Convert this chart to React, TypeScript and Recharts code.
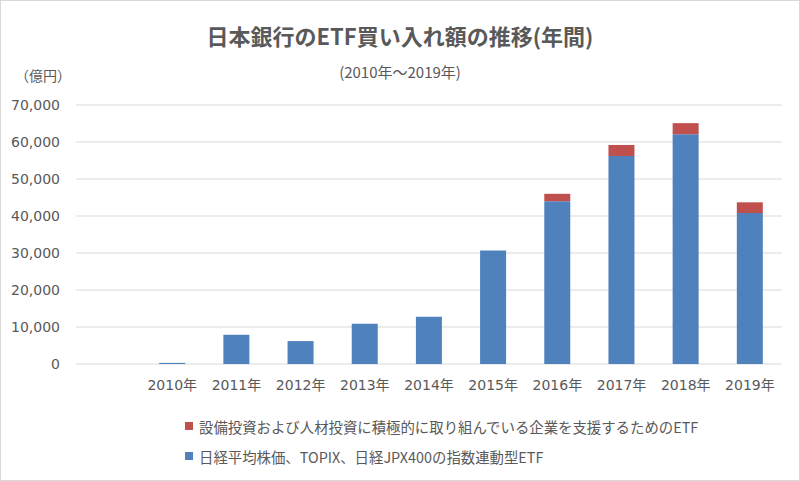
import React from 'react';
import { BarChart, Bar, XAxis, YAxis, CartesianGrid, Legend } from 'recharts';

// 億円, annual purchases. leading '' is the empty slot Excel left at the start
const years = ['', '2010年', '2011年', '2012年', '2013年', '2014年', '2015年', '2016年', '2017年', '2018年', '2019年'];
const indexEtf = [0, 300, 7900, 6200, 10900, 12800, 30700, 44000, 56200, 62100, 40800];
const capexEtf = [0, 0, 0, 0, 0, 0, 0, 2000, 3000, 3000, 2900];
const yTicks = [0, 10000, 20000, 30000, 40000, 50000, 60000, 70000];

const seriesNames = {
  capex: '設備投資および人材投資に積極的に取り組んでいる企業を支援するためのETF',
  index: '日経平均株価、TOPIX、日経JPX400の指数連動型ETF',
};

const BLUE = '#4f81bd';
const RED = '#c0504d';
const TEXT = '#595959';
const JP = '"Noto Sans CJK JP", "Noto Sans", sans-serif';
const NUM = '"DejaVu Sans", "Noto Sans CJK JP", sans-serif';

const data = years.map((y, i) => ({ year: y, index: indexEtf[i], capex: capexEtf[i] }));

const legendItems = [
  { name: seriesNames.capex, color: RED },
  { name: seriesNames.index, color: BLUE },
];

function LegendBox() {
  return (
    <div style={{ fontFamily: JP, fontSize: 14.4, color: TEXT }}>
      {legendItems.map((it) => (
        <div key={it.name} style={{ display: 'flex', alignItems: 'center', height: 30 }}>
          <span style={{ width: 8, height: 8, background: it.color, marginRight: 6, display: 'inline-block' }} />
          <span>{it.name}</span>
        </div>
      ))}
    </div>
  );
}

export default function App() {
  return (
    <div style={{
      position: 'absolute', left: 0, top: 0, width: 800, height: 481,
      boxSizing: 'border-box', border: '1px solid #d9d9d9', background: '#fff',
    }}>
      <div style={{
        position: 'absolute', left: 0, right: 0, top: 18, textAlign: 'center',
        fontFamily: JP, fontWeight: 'bold', fontSize: 22, color: TEXT,
      }}>
        日本銀行のETF買い入れ額の推移(年間)
      </div>
      <div style={{
        position: 'absolute', left: 0, right: 0, top: 60, textAlign: 'center',
        fontFamily: JP, fontSize: 15, color: TEXT,
      }}>
        (2010年～2019年)
      </div>
      <div style={{ position: 'absolute', left: 14, top: 64, fontFamily: JP, fontSize: 14, color: TEXT }}>
        （億円）
      </div>
      <BarChart
        width={798}
        height={479}
        data={data}
        margin={{ top: 104, right: 17, left: 0, bottom: 86 }}
        style={{ position: 'absolute', left: 0, top: 0 }}
      >
        <CartesianGrid vertical={false} stroke="#d9d9d9" />
        <XAxis
          dataKey="year"
          height={30}
          axisLine={false}
          tickLine={false}
          tickSize={0}
          tickMargin={16}
          interval={0}
          tick={{ fontSize: 14, fill: TEXT, fontFamily: NUM }}
        />
        <YAxis
          width={75}
          domain={[0, 70000]}
          ticks={yTicks}
          axisLine={false}
          tickLine={false}
          tickSize={0}
          tickMargin={16}
          tickFormatter={(v) => v.toLocaleString('en-US')}
          tick={{ fontSize: 14, fill: TEXT, fontFamily: NUM }}
        />
        <Legend
          layout="vertical"
          align="center"
          verticalAlign="middle"
          content={() => <LegendBox />}
          wrapperStyle={{ top: 410, left: 184, width: 580 }}
        />
        <Bar dataKey="index" name={seriesNames.index} stackId="a" fill={BLUE} barSize={26} isAnimationActive={false} />
        <Bar dataKey="capex" name={seriesNames.capex} stackId="a" fill={RED} barSize={26} isAnimationActive={false} />
      </BarChart>
    </div>
  );
}
